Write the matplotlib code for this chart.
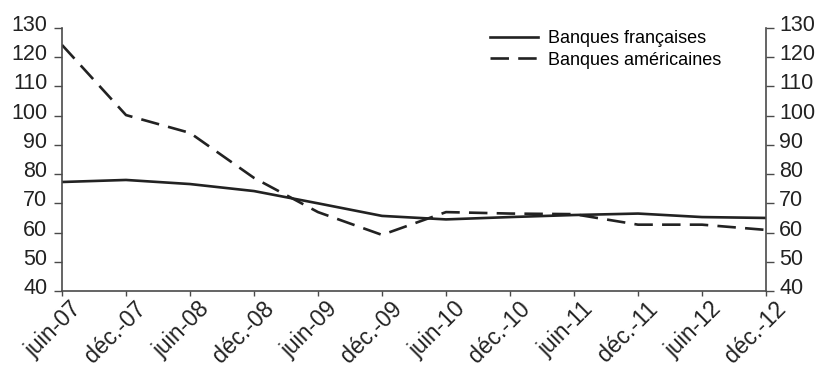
import matplotlib.pyplot as plt
import matplotlib.transforms as mtransforms
import numpy as np

plt.rcParams['font.family'] = ['Liberation Sans', 'DejaVu Sans']

dates = ['juin-07', 'déc.-07', 'juin-08', 'déc.-08', 'juin-09', 'déc.-09',
         'juin-10', 'déc.-10', 'juin-11', 'déc.-11', 'juin-12', 'déc.-12']
fr_banks = [77.3, 78.0, 76.6, 74.2, 70.0, 65.7, 64.5, 65.3, 66.0, 66.5, 65.3, 65.0]
us_banks = [124.2, 100.2, 94.1, 78.7, 67.0, 59.2, 67.0, 66.5, 66.3, 62.7, 62.7, 60.9]
yticks = list(range(40, 131, 10))

grey = '#4a4a4a'
line_col = '#222222'

fig = plt.figure(figsize=(8.16, 3.67), dpi=100)
ax = fig.add_axes([62 / 816, 1 - 291 / 367, (766 - 62) / 816, (291 - 28) / 367])
x = np.arange(len(dates))

ax.plot(x, fr_banks, color=line_col, lw=1.9, label='Banques françaises')
ax.plot(x, us_banks, color=line_col, lw=1.9, dashes=(7, 3.5), label='Banques américaines')

ax.set_xlim(0, len(dates) - 1)
ax.set_ylim(40, 130)
ax.set_yticks(yticks)
ax.set_xticks(x)
ax.set_xticklabels(dates, rotation=45, ha='right', va='top', rotation_mode='anchor')
ax.tick_params(axis='y', left=True, right=True, labelleft=True, labelright=True,
               colors=grey, labelcolor='#222222', labelsize=15.5,
               length=6, width=1, direction='out', pad=4.5)
ax.tick_params(axis='x', colors=grey, labelcolor='#222222', labelsize=16.5,
               length=3.8, width=1, direction='out', pad=0.5)

# y labels sit a little above their ticks, x labels shifted right
up = mtransforms.ScaledTranslation(0, 0.05, fig.dpi_scale_trans)
left_shift = mtransforms.ScaledTranslation(-0.015, 0, fig.dpi_scale_trans)
for t in ax.yaxis.get_major_ticks():
    t.label1.set_transform(t.label1.get_transform() + up)
    t.label2.set_transform(t.label2.get_transform() + up + left_shift)
right = mtransforms.ScaledTranslation(0.08, 0, fig.dpi_scale_trans)
for lab in ax.get_xticklabels():
    lab.set_transform(lab.get_transform() + right)

ax.spines['top'].set_visible(False)
for s in ('left', 'right', 'bottom'):
    ax.spines[s].set_color(grey)
    ax.spines[s].set_linewidth(1.2)

fig.legend(loc='upper left', bbox_to_anchor=(490 / 816, 1 - 30 / 367), frameon=False,
           fontsize=13, handlelength=2.65, labelspacing=0.25, handletextpad=0.55,
           borderpad=0, borderaxespad=0)

fig.savefig('out.png', dpi=100)
